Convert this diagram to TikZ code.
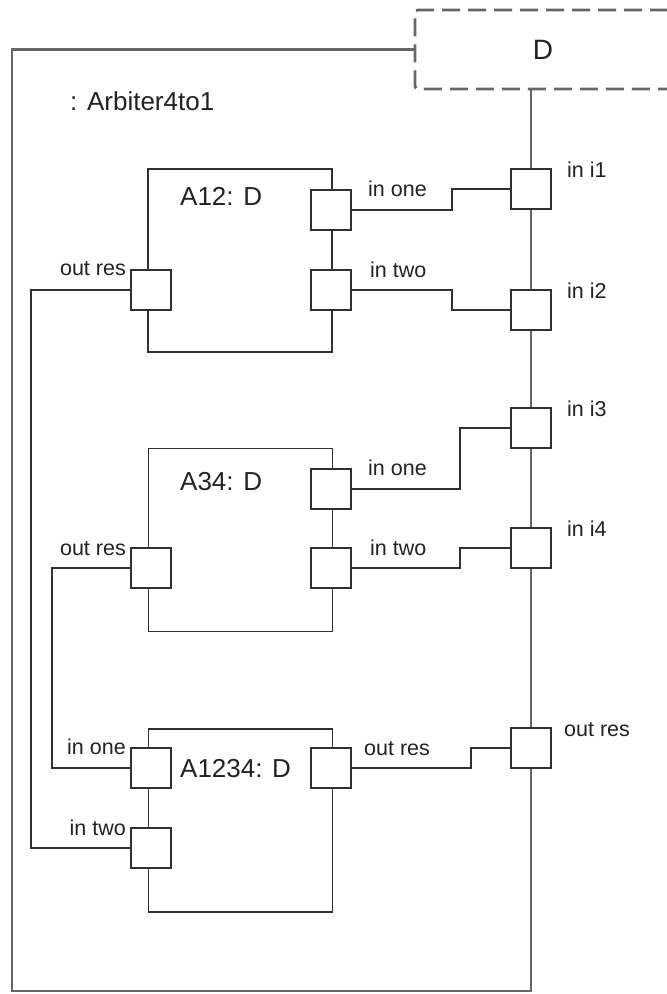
\documentclass[tikz,border=0pt]{standalone}
\usepackage{fontspec}
\setmainfont{Liberation Sans}
\usetikzlibrary{calc}
\definecolor{ln}{HTML}{303030}
\definecolor{fr}{HTML}{666666}
\definecolor{tx}{HTML}{222222}
\tikzset{
  frame/.style={draw=fr, line width=2.6pt},
  dbox/.style={draw=fr, line width=2.8pt, dash pattern=on 18pt off 8pt, rounded corners=3pt,
     minimum width=256pt, minimum height=79pt, inner sep=0pt, font=\fontsize{28}{32}\selectfont, text=tx},
  part/.style={draw=ln, line width=1.8pt, minimum width=184pt, minimum height=183pt, inner sep=0pt},
  port/.style={draw=ln, fill=white, line width=2pt, minimum size=40pt, inner sep=0pt},
  wire/.style={draw=ln, line width=1.8pt},
  lbl/.style={font=\fontsize{21.5}{24}\selectfont, text=tx, inner sep=0pt},
  ttl/.style={font=\fontsize{26}{30}\selectfont, text=tx, inner sep=0pt}
}
\begin{document}
\begin{tikzpicture}[x=1pt,y=-1pt]
\clip (0,0) rectangle (667,994);
\fill[white] (0,0) rectangle (667,994);

% type box
\node[dbox] (D) at (543,49.5) {D};
\coordinate (bl) at (12,991);
\coordinate (br) at (531,991);
\draw[frame] (D.west) -| (bl) -- (br) -- (br |- D.south);

\node[ttl, anchor=base west] (title) at (70,110) {: Arbiter4to1};

% parts
\node[part] (A12) at (240,260.5) {};
\node[part] (A34) at (240.5,540) {};
\node[part] (A1234) at (240.5,820.5) {};

\node[ttl, anchor=base west] (t12) at (180,205) {A12: D};
\node[ttl, anchor=base west] (t34) at (180,490) {A34: D};
\node[ttl, anchor=base west] (t1234) at (180,777) {A1234: D};

% part ports
\node[port] (p12one) at (331,210) {};
\node[port] (p12two) at (331,290) {};
\node[port] (p12res) at (151,290) {};
\node[port] (p34one) at (331,489) {};
\node[port] (p34two) at (331,568) {};
\node[port] (p34res) at (151,568) {};
\node[port] (pone) at (151,768) {};
\node[port] (ptwo) at (151,848) {};
\node[port] (pres) at (331,768) {};

% boundary ports
\node[port] (i1) at (531,189) {};
\node[port] (i2) at (531,310) {};
\node[port] (i3) at (531,428) {};
\node[port] (i4) at (531,548) {};
\node[port] (ores) at (531,748) {};

% junction columns
\coordinate (j1) at (452,0);
\coordinate (j2) at (460,0);
\coordinate (j3) at (471,0);
\coordinate (j4) at (31,0);
\coordinate (j5) at (52,0);

\draw[wire] (p12one.east) -- (p12one.east -| j1) |- (i1.west);
\draw[wire] (p12two.east) -- (p12two.east -| j1) |- (i2.west);
\draw[wire] (p34one.east) -- (p34one.east -| j2) |- (i3.west);
\draw[wire] (p34two.east) -- (p34two.east -| j2) |- (i4.west);
\draw[wire] (pres.east) -- (pres.east -| j3) |- (ores.west);
\draw[wire] (p12res.west) -- (p12res.west -| j4) |- (ptwo.west);
\draw[wire] (p34res.west) -- (p34res.west -| j5) |- (pone.west);

% port labels
\node[lbl, anchor=base west] (l12one) at (368,196) {in one};
\node[lbl, anchor=base west] (l12two) at (370,277) {in two};
\node[lbl, anchor=base east] (l12res) at (126,275) {out res};
\node[lbl, anchor=base west] (l34one) at (368,475) {in one};
\node[lbl, anchor=base west] (l34two) at (370,555) {in two};
\node[lbl, anchor=base east] (l34res) at (126,555) {out res};
\node[lbl, anchor=base east] (lone) at (126,754) {in one};
\node[lbl, anchor=base east] (ltwo) at (126,835) {in two};
\node[lbl, anchor=base west] (lres) at (364,755) {out res};

\node[lbl, anchor=base west] (li1) at (567,177) {in i1};
\node[lbl, anchor=base west] (li2) at (567,298) {in i2};
\node[lbl, anchor=base west] (li3) at (567,416) {in i3};
\node[lbl, anchor=base west] (li4) at (567,536) {in i4};
\node[lbl, anchor=base west] (lores) at (564,736) {out res};
\end{tikzpicture}
\end{document}
